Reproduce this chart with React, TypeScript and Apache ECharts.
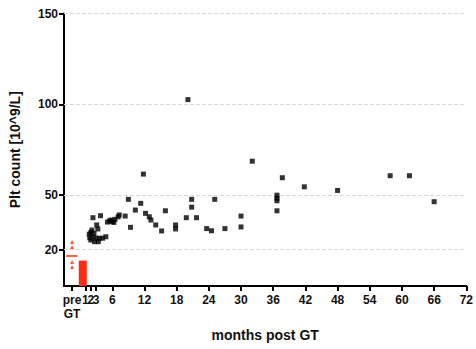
import React, { useEffect, useRef } from "react";
import * as echarts from "echarts";

const xTickValues = [-1.5, 1, 2, 3, 6, 12, 18, 24, 30, 36, 42, 48, 54, 60, 66, 72];
const yTickValues = [20, 50, 100, 150];
const gridValues = [20, 50, 100, 150];

// black squares: [months post GT, Plt count]
const pltPoints: [number, number][] = [
  [1.7, 28.5], [1.8, 26.5], [2.0, 25.3], [2.0, 29.5], [2.2, 30.8], [2.4, 27.1], [2.4, 37.6],
  [2.6, 29.0], [2.7, 24.4], [3.0, 26.3], [3.1, 33.6], [3.3, 31.4], [3.4, 24.4], [3.6, 26.3],
  [3.8, 38.7], [4.2, 26.3], [4.8, 27.1],
  [5.1, 35.2], [5.5, 35.9], [5.8, 36.3], [6.0, 35.4], [6.3, 35.0], [6.5, 36.7], [7.1, 38.1], [7.3, 39.1],
  [8.4, 38.5], [9.0, 47.7], [9.4, 32.3], [10.3, 41.8], [11.3, 45.5], [11.8, 61.6], [12.2, 40.0],
  [12.9, 38.1], [13.2, 36.3], [14.1, 33.6], [15.2, 30.3], [15.9, 41.4], [17.8, 33.6], [17.8, 31.4],
  [19.8, 37.6], [20.1, 102.6], [20.8, 47.7], [20.8, 43.4], [21.7, 37.6], [23.6, 31.6], [24.5, 30.4],
  [25.1, 47.7], [27.0, 31.6], [30.0, 38.5], [30.0, 32.5], [32.1, 68.7],
  [36.7, 50.0], [36.7, 48.3], [36.7, 46.9], [36.7, 41.4], [37.7, 59.6], [41.8, 54.6], [48.0, 52.6],
  [57.8, 60.7], [61.4, 60.7], [66.0, 46.4],
];

// red pre-GT values
const prePoints: [number, number][] = [
  [-1.5, 24.2], [-1.5, 21.5], [-1.5, 13.2], [-1.5, 10.5],
];
const preMedian = 16.8;

// red bar
const barData: [number, number][] = [[0.5, 14]];

const FONT = "'Liberation Sans', Arial, sans-serif";
const RED = "#ff2a12";

export default function App() {
  const ref = useRef<HTMLDivElement>(null);
  useEffect(() => {
    if (!ref.current) return;
    const chart = echarts.init(ref.current, undefined, { renderer: "svg" });
    chart.setOption({
      animation: false,
      backgroundColor: "#ffffff",
      grid: { left: 64, right: 5, top: 13.5, bottom: 63, containLabel: false },
      xAxis: {
        type: "value",
        min: -3,
        max: 72,
        name: "months post GT",
        nameLocation: "middle",
        nameGap: 42,
        nameTextStyle: { fontFamily: FONT, fontWeight: "bold", fontSize: 14, color: "#111" },
        axisLine: { show: true, onZero: false, lineStyle: { color: "#000", width: 2 } },
        axisTick: { show: true, length: 5, lineStyle: { color: "#000", width: 2 }, customValues: xTickValues },
        axisLabel: {
          customValues: xTickValues,
          hideOverlap: false,
          showMinLabel: true,
          showMaxLabel: true,
          margin: 7,
          fontFamily: FONT,
          fontWeight: "bold",
          fontSize: 12,
          color: "#111",
          lineHeight: 14,
          formatter: (v: number) => (v === -1.5 ? "pre\nGT" : String(v)),
        },
        splitLine: { show: false },
      },
      yAxis: {
        type: "value",
        min: 0,
        max: 150,
        name: "Plt count [10^9/L]",
        nameLocation: "middle",
        nameGap: 42,
        nameTextStyle: { fontFamily: FONT, fontWeight: "bold", fontSize: 14, color: "#111" },
        axisLine: { show: true, onZero: false, lineStyle: { color: "#000", width: 2 } },
        axisTick: { show: true, length: 5, lineStyle: { color: "#000", width: 2 }, customValues: yTickValues },
        axisLabel: {
          customValues: yTickValues,
          margin: 6,
          fontFamily: FONT,
          fontWeight: "bold",
          fontSize: 12,
          color: "#111",
        },
        splitLine: { show: false },
      },
      series: [
        {
          type: "scatter",
          data: pltPoints,
          symbol: "rect",
          symbolSize: 5,
          itemStyle: { color: "#000" },
          z: 3,
          markLine: {
            silent: true,
            symbol: "none",
            label: { show: false },
            lineStyle: { color: "#d8d8d8", type: "dashed", width: 1 },
            data: gridValues.map((v) => ({ yAxis: v })),
            z: 1,
          },
        },
        {
          type: "bar",
          data: barData,
          barWidth: 8,
          itemStyle: { color: RED },
          z: 2,
        },
        {
          type: "scatter",
          data: prePoints,
          symbol: "triangle",
          symbolSize: 4,
          itemStyle: { color: RED },
          z: 3,
          markLine: {
            silent: true,
            symbol: "none",
            label: { show: false },
            lineStyle: { color: RED, type: "solid", width: 1.5 },
            data: [[{ coord: [-2.6, preMedian] }, { coord: [-0.5, preMedian] }]],
          },
        },
      ],
    });
    return () => chart.dispose();
  }, []);
  return (
    <div
      ref={ref}
      style={{ position: "fixed", left: 0, top: 0, width: 476, height: 349, background: "#fff" }}
    />
  );
}
